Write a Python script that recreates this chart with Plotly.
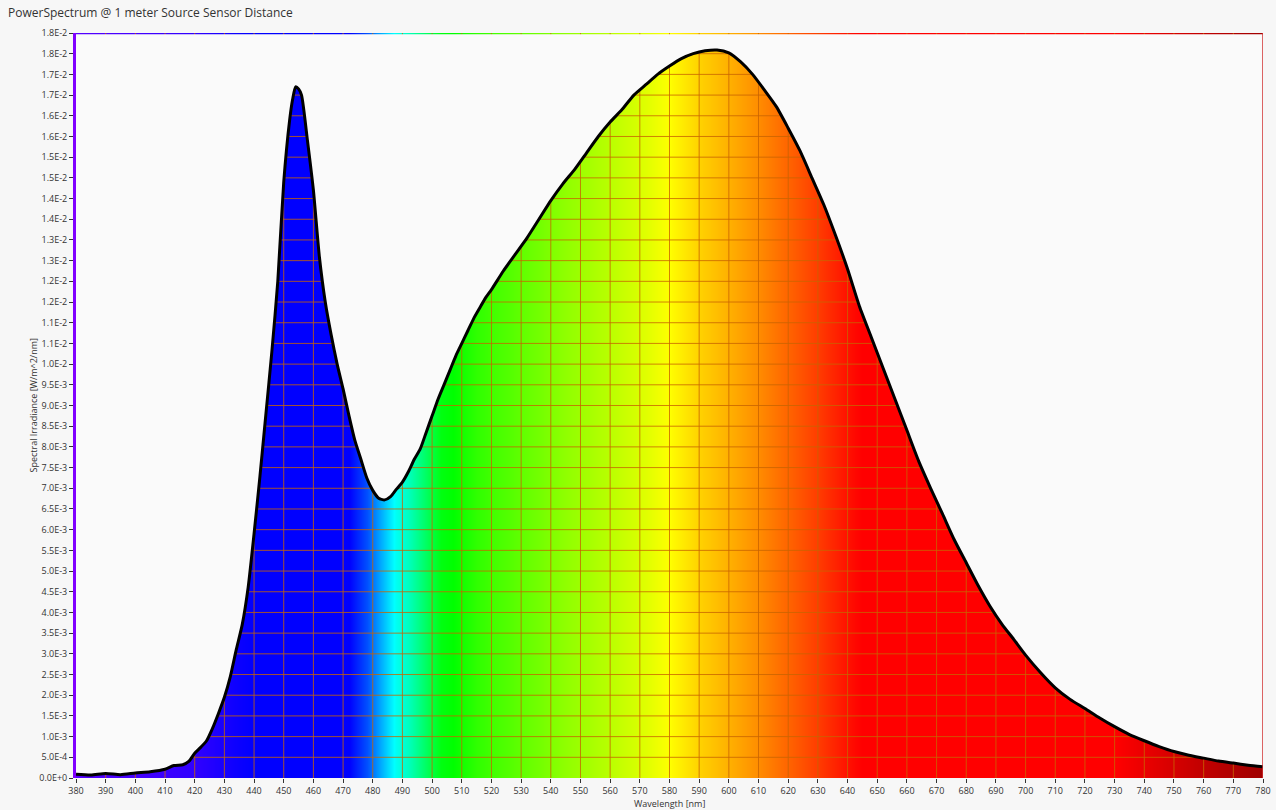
import numpy as np
import plotly.graph_objects as go

# ---- data ----
wavelength = [380, 385, 390, 395, 400, 405, 410, 413, 416, 418, 420, 422, 424, 426, 428,
              430, 432, 434, 436, 438, 440, 442, 444, 446, 448, 450, 452, 453, 454, 455,
              456, 458, 460, 462, 464, 466, 468, 470, 472, 474, 476, 478, 480, 482, 484,
              486, 488, 490, 492, 494, 496, 498, 500, 502, 504, 506, 508, 510, 512, 514,
              516, 518, 520, 524, 528, 532, 536, 540, 544, 548, 552, 556, 560, 564, 568,
              572, 576, 580, 584, 588, 592, 596, 600, 604, 608, 612, 616, 620, 624, 628,
              632, 636, 640, 644, 648, 652, 656, 660, 664, 668, 672, 676, 680, 684, 688,
              692, 696, 700, 705, 710, 715, 720, 725, 730, 735, 740, 745, 750, 755, 760,
              765, 770, 775, 780]
irradiance_mW = [0.09, 0.07, 0.11, 0.08, 0.12, 0.15, 0.21, 0.30, 0.32, 0.40, 0.60, 0.74, 0.90, 1.20, 1.56,
                 1.95, 2.45, 3.10, 3.70, 4.60, 5.90, 7.30, 8.80, 10.3, 12.0, 14.4, 15.9, 16.4, 16.7, 16.65,
                 16.5, 15.4, 14.2, 12.6, 11.5, 10.7, 10.0, 9.40, 8.75, 8.15, 7.70, 7.25, 6.95, 6.76, 6.72,
                 6.80, 6.98, 7.15, 7.40, 7.70, 7.95, 8.35, 8.75, 9.15, 9.50, 9.85, 10.2, 10.5, 10.8, 11.1,
                 11.35, 11.6, 11.8, 12.25, 12.65, 13.05, 13.5, 13.95, 14.35, 14.7, 15.1, 15.5, 15.85, 16.15, 16.5,
                 16.75, 17.0, 17.2, 17.38, 17.5, 17.57, 17.59, 17.52, 17.3, 17.0, 16.62, 16.22, 15.7, 15.15, 14.5,
                 13.85, 13.1, 12.3, 11.4, 10.65, 9.9, 9.15, 8.4, 7.65, 7.0, 6.38, 5.75, 5.2, 4.65, 4.15,
                 3.72, 3.35, 2.97, 2.55, 2.18, 1.90, 1.68, 1.45, 1.24, 1.05, 0.90, 0.76, 0.64, 0.55, 0.48,
                 0.41, 0.36, 0.31, 0.27]
irradiance = [v * 1e-3 for v in irradiance_mW]

x_ticks = list(range(380, 781, 10))
y_ticks = [i * 0.0005 for i in range(37)]
y_tick_labels = ["0.0E+0", "5.0E-4", "1.0E-3", "1.5E-3", "2.0E-3", "2.5E-3", "3.0E-3", "3.5E-3",
                 "4.0E-3", "4.5E-3", "5.0E-3", "5.5E-3", "6.0E-3", "6.5E-3", "7.0E-3", "7.5E-3",
                 "8.0E-3", "8.5E-3", "9.0E-3", "9.5E-3", "1.0E-2", "1.1E-2", "1.1E-2", "1.2E-2",
                 "1.2E-2", "1.3E-2", "1.3E-2", "1.4E-2", "1.4E-2", "1.5E-2", "1.5E-2", "1.6E-2",
                 "1.6E-2", "1.7E-2", "1.7E-2", "1.8E-2", "1.8E-2"]

# spectrum colour stops (style)
spec_wl = [380, 400, 420, 435, 440, 472, 478, 482, 487, 492, 497, 503, 507, 515, 530, 545, 560,
           572, 580, 585, 590, 600, 610, 620, 630, 640, 645, 730, 745, 760, 780]
spec_col = ["#5500ff", "#4400ff", "#3000ff", "#0a00ff", "#0000ff", "#0000ff", "#0050ff", "#00a0ff",
            "#00ffff", "#00ffc0", "#00ff70", "#00ff10", "#00ff00", "#30ff00", "#60ff00", "#90ff00",
            "#baff00", "#e0ff00", "#ffff00", "#ffe800", "#ffd200", "#ffb000", "#ff8c00", "#ff6400",
            "#ff3c00", "#ff1000", "#ff0000", "#ff0000", "#e00000", "#c00000", "#a00000"]

X0, X1 = 380, 780
Y0, Y1 = 0.0, 0.018
colorscale = [[(w - X0) / (X1 - X0), c] for w, c in zip(spec_wl, spec_col)]

fig = go.Figure()

# spectral gradient background
bg_x = np.arange(X0, X1 + 1, 1)
fig.add_trace(go.Heatmap(x=bg_x, y=[Y0, Y1], z=[bg_x, bg_x], colorscale=colorscale,
                         zmin=X0, zmax=X1, zsmooth="best", showscale=False, hoverinfo="skip"))

# grid lines (drawn over the gradient, then covered by the white area)
gx, gy = [], []
for t in x_ticks[1:-1]:
    gx += [t, t, None]
    gy += [Y0, Y1, None]
for t in y_ticks[1:-1]:
    gx += [X0, X1, None]
    gy += [t, t, None]
fig.add_trace(go.Scatter(x=gx, y=gy, mode="lines",
                         line=dict(color="rgba(200,100,0,0.8)", width=1),
                         hoverinfo="skip", showlegend=False))

# white area above the curve
top = Y1 - 0.00003
fig.add_trace(go.Scatter(x=wavelength + [X1, X0], y=irradiance + [top, top],
                         fill="toself", fillcolor="#fafafa", mode="none",
                         hoverinfo="skip", showlegend=False))

# the spectrum curve
fig.add_trace(go.Scatter(x=wavelength, y=irradiance, mode="lines",
                         line=dict(color="black", width=3, shape="spline", smoothing=0.6),
                         showlegend=False))

font_fam = "Open Sans, Noto Sans, sans-serif"
fig.update_layout(
    width=1276, height=810,
    margin=dict(l=76, r=13, t=33, b=32, autoexpand=False),
    paper_bgcolor="#f7f7f7", plot_bgcolor="#fafafa",
    font=dict(family=font_fam, size=9, color="#333333"),
    title=dict(text="PowerSpectrum @ 1 meter Source Sensor Distance", xref="container",
               x=8 / 1276, xanchor="left", yref="container", y=1 - 13 / 810, yanchor="middle",
               font=dict(size=12, color="#333333", family=font_fam)),
    showlegend=False,
)
fig.update_xaxes(range=[X0, X1], tickvals=x_ticks, ticktext=[str(t) for t in x_ticks],
                 showgrid=False, zeroline=False, showline=False, automargin=False,
                 ticks="outside", ticklen=4, tickcolor="#333333", tickwidth=1,
                 tickfont=dict(size=9))
fig.update_yaxes(range=[Y0, Y1], tickvals=y_ticks, ticktext=y_tick_labels,
                 showgrid=False, zeroline=False, showline=True, linecolor="#8000ff", linewidth=3,
                 automargin=False,
                 ticks="outside", ticklen=4, tickcolor="#333333", tickwidth=1,
                 tickfont=dict(size=9))

fig.add_shape(type="line", xref="x", yref="paper", x0=X1, x1=X1, y0=0, y1=1,
              line=dict(color="#d03030", width=1.5))

fig.add_annotation(text="Spectral Irradiance [W/m^2/nm]", xref="paper", yref="paper",
                   x=(33 - 76) / 1187, y=0.5, textangle=-90, showarrow=False,
                   xanchor="center", yanchor="middle", font=dict(size=9, color="#333333"))
fig.add_annotation(text="Wavelength [nm]", xref="paper", yref="paper",
                   x=0.5, y=(778 - 803) / 745, showarrow=False,
                   xanchor="center", yanchor="middle", font=dict(size=9, color="#333333"))

fig.write_html("out.html", config={"displayModeBar": False},
               post_script="document.body.style.margin='0';document.body.style.overflow='hidden';")
